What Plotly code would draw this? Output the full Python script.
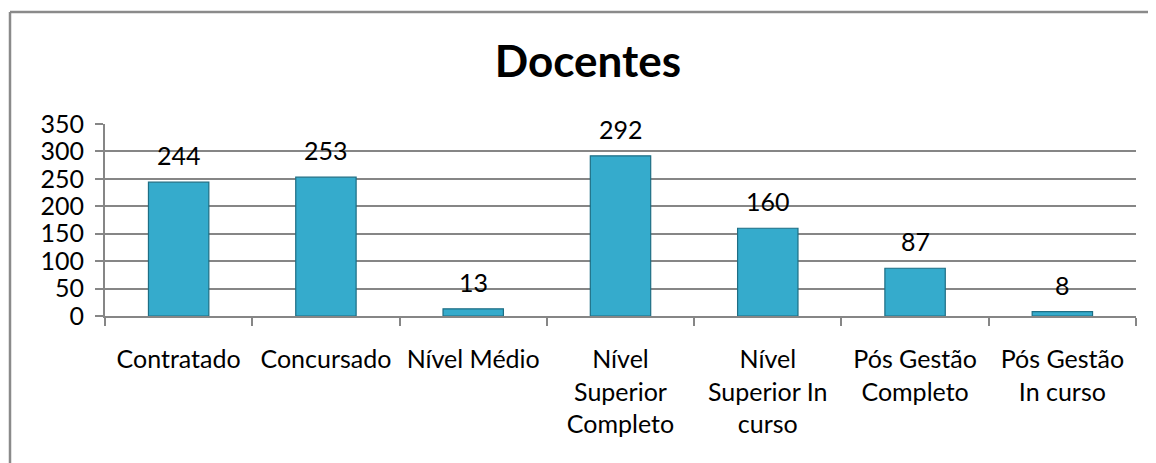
import plotly.graph_objects as go

title = "Docentes"
categories = ["Contratado", "Concursado", "Nível Médio",
              "Nível<br>Superior<br>Completo", "Nível<br>Superior In<br>curso",
              "Pós Gestão<br>Completo", "Pós Gestão<br>In curso"]
values = [244, 253, 13, 292, 160, 87, 8]
y_ticks = [0, 50, 100, 150, 200, 250, 300, 350]

FONT = "Lato, 'Open Sans', sans-serif"

# page body has an 8px default margin; layout below compensates for it
fig = go.Figure()
fig.add_trace(go.Bar(
    x=categories, y=values,
    marker=dict(color="#35ABCC", line=dict(color="#1E6E84", width=1.2)),
    width=0.41,
    hoverinfo="skip",
))

for c, v in zip(categories, values):
    fig.add_annotation(x=c, y=v, text=str(v), showarrow=False,
                       yanchor="middle", yshift=27,
                       font=dict(family=FONT, size=25, color="#000"))

fig.update_layout(
    width=1156, height=463,
    margin=dict(l=97, r=28, t=116, b=155, autoexpand=False),
    paper_bgcolor="white", plot_bgcolor="white",
    showlegend=False,
    title=dict(text="<b>" + title + "</b>", x=580 / 1156, xref="container", xanchor="center",
               y=1 - 54 / 463, yref="container", yanchor="middle",
               font=dict(family=FONT, size=44, color="#000")),
    font=dict(family=FONT, size=25, color="#000"),
    bargap=0.59,
)

fig.update_xaxes(
    showgrid=False, showline=True, linecolor="#868686", linewidth=2,
    ticks="outside", ticklen=8, tickcolor="#868686", tickwidth=2,
    tickson="boundaries", ticklabelstandoff=20, automargin=False,
    tickfont=dict(family=FONT, size=25, color="#000"),
)
fig.update_yaxes(
    range=[0, 350], tickvals=y_ticks, showgrid=True, gridcolor="#868686", gridwidth=2,
    showline=True, linecolor="#868686", linewidth=2,
    ticks="outside", ticklen=8, tickcolor="#868686", tickwidth=2,
    zeroline=False, ticklabelstandoff=6, automargin=False,
    tickfont=dict(family=FONT, size=25, color="#000"),
)

# outer chart frame (left and top edges visible in the reference)
PW, PH = 1031, 192
fx = (2 - 97) / PW
fy = (308 - 4) / PH
fig.add_shape(type="line", xref="paper", yref="paper",
              x0=fx, x1=fx, y0=-1, y1=fy,
              line=dict(color="#8A8A8A", width=2.5))
fig.add_shape(type="line", xref="paper", yref="paper",
              x0=fx, x1=2, y0=fy, y1=fy,
              line=dict(color="#8A8A8A", width=2.5))

fig.write_html("out.html")
